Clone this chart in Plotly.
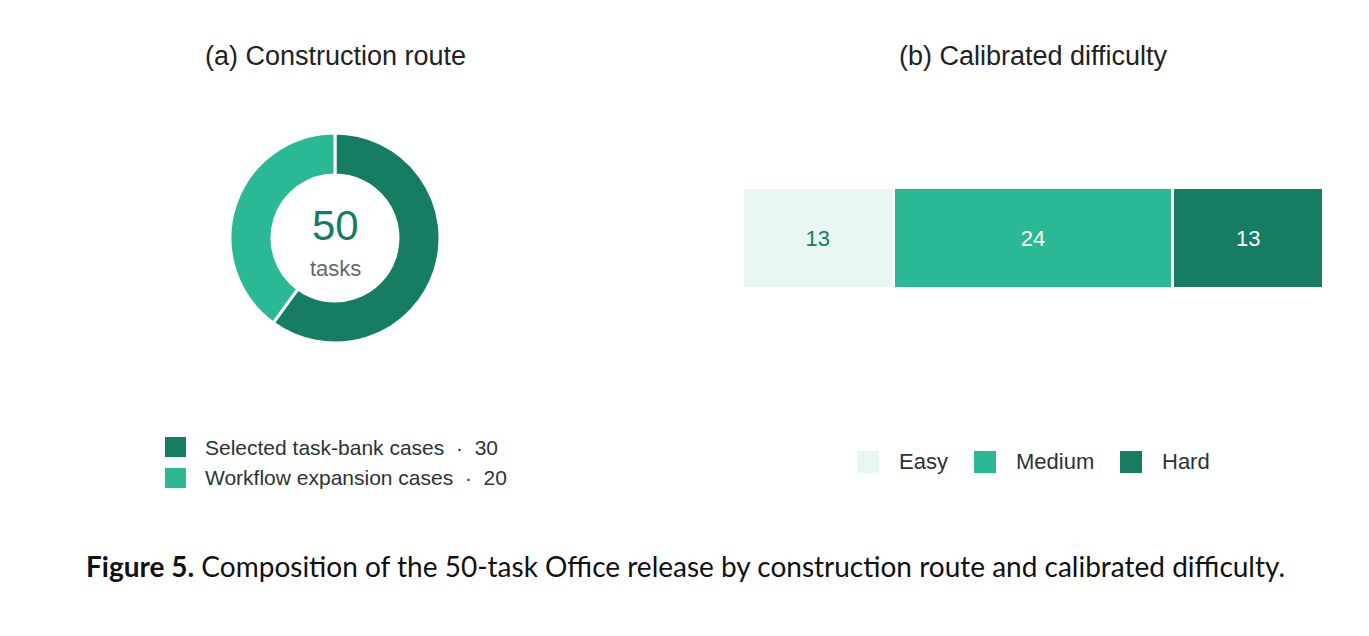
import plotly.graph_objects as go

W, H = 1369, 636

route_labels = ["Selected task-bank cases", "Workflow expansion cases"]
route_values = [30, 20]
route_colors = ["#167d63", "#2ab994"]

diff_labels = ["Easy", "Medium", "Hard"]
diff_values = [13, 24, 13]
diff_colors = ["#e8f7f2", "#2ab994", "#167d63"]
diff_text_colors = ["#167d63", "#ffffff", "#ffffff"]

total = sum(route_values)

OFF = 8  # page body margin offset

def px(x):
    return (x - OFF) / W

def py(y):
    return 1 - (y - OFF) / H

FONT = "Liberation Sans, Arial, sans-serif"

fig = go.Figure()

fig.add_trace(go.Pie(
    labels=route_labels, values=route_values, hole=0.6, sort=False,
    direction="clockwise", rotation=0,
    marker=dict(colors=route_colors, line=dict(color="white", width=3)),
    textinfo="none", showlegend=False,
    domain=dict(x=[px(230), px(440)], y=[py(343), py(133)]),
))

for lab, val, col, tc in zip(diff_labels, diff_values, diff_colors, diff_text_colors):
    fig.add_trace(go.Bar(
        x=[val], y=[0], orientation="h", name=lab, width=1,
        marker=dict(color=col, line=dict(color="white", width=3.5)),
        text=[str(val)], textposition="inside", insidetextanchor="middle",
        textfont=dict(family=FONT, size=22, color=tc),
        showlegend=False, xaxis="x", yaxis="y",
    ))

fig.update_layout(
    width=W, height=H, margin=dict(l=0, r=0, t=0, b=0),
    paper_bgcolor="white", plot_bgcolor="white",
    barmode="stack",
    xaxis=dict(domain=[px(742), px(1324)], range=[0, total], visible=False, fixedrange=True),
    yaxis=dict(domain=[py(289), py(187)], range=[-0.5, 0.5], visible=False, fixedrange=True),
)

ann = []
shapes = []
# titles
ann.append(dict(text="(a) Construction route", x=px(335), y=py(56), xref="paper", yref="paper",
                showarrow=False, font=dict(family=FONT, size=27, color="#222"), xanchor="center", yanchor="middle"))
ann.append(dict(text="(b) Calibrated difficulty", x=px(1033), y=py(56), xref="paper", yref="paper",
                showarrow=False, font=dict(family=FONT, size=27, color="#222"), xanchor="center", yanchor="middle"))
# donut center
ann.append(dict(text=str(total), x=px(335), y=py(225), xref="paper", yref="paper",
                showarrow=False, font=dict(family=FONT, size=42, color="#167d63"), xanchor="center", yanchor="middle"))
ann.append(dict(text="tasks", x=px(335), y=py(268), xref="paper", yref="paper",
                showarrow=False, font=dict(family=FONT, size=22, color="#5f6b69"), xanchor="center", yanchor="middle"))

# legend (a)
for i, (lab, val, col) in enumerate(zip(route_labels, route_values, route_colors)):
    yc = 447 + i * 31
    shapes.append(dict(type="rect", xref="paper", yref="paper", x0=px(165), x1=px(186),
                       y0=py(yc + 10), y1=py(yc - 10), fillcolor=col, line=dict(width=0)))
    ann.append(dict(text=f"{lab}  ·  {val}", x=px(203), y=py(yc), xref="paper", yref="paper",
                    showarrow=False, font=dict(family=FONT, size=21, color="#2b3432"),
                    xanchor="left", yanchor="middle"))

# legend (b)
leg_x = [857, 974, 1120]
for lab, col, x0 in zip(diff_labels, diff_colors, leg_x):
    yc = 462
    shapes.append(dict(type="rect", xref="paper", yref="paper", x0=px(x0), x1=px(x0 + 22),
                       y0=py(yc + 11), y1=py(yc - 11), fillcolor=col, line=dict(width=0)))
    ann.append(dict(text=lab, x=px(x0 + 40), y=py(yc), xref="paper", yref="paper",
                    showarrow=False, font=dict(family=FONT, size=22, color="#2b3432"),
                    xanchor="left", yanchor="middle"))

# caption
ann.append(dict(text="<b>Figure 5.</b> Composition of the 50-task Office release by construction route and calibrated difficulty.",
                x=px(685), y=py(566), xref="paper", yref="paper", showarrow=False,
                font=dict(family="Lato, Noto Sans, sans-serif", size=28, color="#111"),
                xanchor="center", yanchor="middle"))

fig.update_layout(annotations=ann, shapes=shapes)
fig.write_html("out.html")
